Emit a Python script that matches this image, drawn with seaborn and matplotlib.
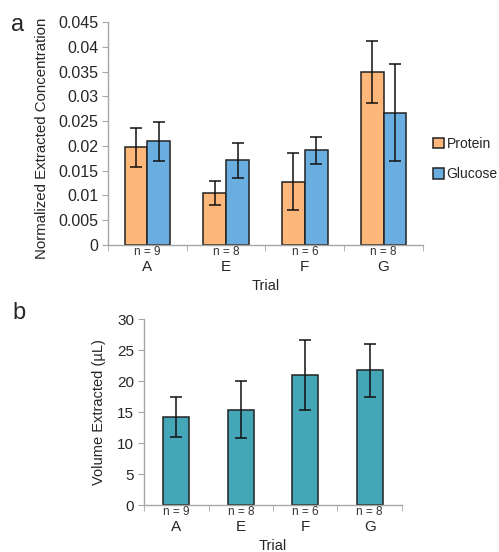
import numpy as np
import pandas as pd
import seaborn as sns
import matplotlib.pyplot as plt

trials = ['A', 'E', 'F', 'G']
n_counts = [9, 8, 6, 8]

protein = [0.0197, 0.0105, 0.0128, 0.0349]
protein_err = [0.0039, 0.0025, 0.0057, 0.0063]
glucose = [0.0209, 0.0171, 0.0191, 0.0267]
glucose_err = [0.0039, 0.0035, 0.0027, 0.0098]

volume = [14.2, 15.4, 21.0, 21.7]
volume_err = [3.15, 4.55, 5.6, 4.3]

sns.set_style('white')
plt.rcParams['font.family'] = ['Liberation Sans', 'DejaVu Sans']

axis_gray = '#a6a6a6'
edge = '#222222'

fig = plt.figure(figsize=(4.99, 5.52), dpi=100)
ax1 = fig.add_axes([0.2164, 0.5562, 0.6313, 0.404])
ax2 = fig.add_axes([0.2886, 0.0851, 0.517, 0.337])

# panel a
df_a = pd.DataFrame({
    'Trial': trials * 2,
    'Type': ['Protein'] * 4 + ['Glucose'] * 4,
    'Value': protein + glucose,
})
sns.barplot(data=df_a, x='Trial', y='Value', hue='Type', ax=ax1,
            palette={'Protein': '#fdb77a', 'Glucose': '#6aaee0'},
            errorbar=None, width=0.58, gap=0, edgecolor=edge, linewidth=1.1,
            saturation=1)
for cont, errs in zip(ax1.containers, [protein_err, glucose_err]):
    xs = [p.get_x() + p.get_width() / 2 for p in cont.patches]
    ys = [p.get_height() for p in cont.patches]
    ax1.errorbar(xs, ys, yerr=errs, fmt='none', ecolor='#111111',
                 elinewidth=1.1, capsize=4, capthick=1.1)
ax1.set_ylim(0, 0.045)
ax1.set_yticks(np.arange(0, 0.0451, 0.005))
ax1.set_yticklabels(['0', '0.005', '0.01', '0.015', '0.02', '0.025',
                     '0.03', '0.035', '0.04', '0.045'])
ax1.tick_params(axis='y', labelsize=11.5)
ax1.set_ylabel('Normalized Extracted Concentration', fontsize=10.8)
ax1.yaxis.set_label_coords(-0.187, 0.48)
ax1.set_xlabel('Trial', fontsize=10.5)
ax1.xaxis.set_label_coords(0.5, -0.152)
leg = ax1.legend(loc='center left', bbox_to_anchor=(1.0, 0.385), frameon=False,
                 fontsize=10, handlelength=0.8, handleheight=0.8,
                 handletextpad=0.2, labelspacing=1.2, borderaxespad=0.3)

# panel b
df_b = pd.DataFrame({'Trial': trials, 'Volume': volume})
sns.barplot(data=df_b, x='Trial', y='Volume', ax=ax2, color='#45a6b7',
            errorbar=None, width=0.4, edgecolor=edge, linewidth=1.1,
            saturation=1)
xs = [p.get_x() + p.get_width() / 2 for p in ax2.containers[0].patches]
ax2.errorbar(xs, volume, yerr=volume_err, fmt='none', ecolor='#111111',
             elinewidth=1.1, capsize=4, capthick=1.1)
ax2.set_ylim(0, 30)
ax2.set_yticks(range(0, 31, 5))
ax2.tick_params(axis='y', labelsize=11)
ax2.set_ylabel('Volume Extracted (\u00b5L)', fontsize=10.5)
ax2.yaxis.set_label_coords(-0.147, 0.5)
ax2.set_xlabel('Trial', fontsize=10.5)
ax2.xaxis.set_label_coords(0.5, -0.18)

for ax in (ax1, ax2):
    sns.despine(ax=ax)
    for s in ('left', 'bottom'):
        ax.spines[s].set_color(axis_gray)
        ax.spines[s].set_linewidth(1.0)
    ax.set_xlim(-0.5, len(trials) - 0.5)
    ax.set_xticks(np.arange(len(trials) + 1) - 0.5, minor=True)
    ax.tick_params(axis='x', which='minor', direction='out', length=4,
                   color=axis_gray, bottom=True)
    ax.tick_params(axis='x', which='major', length=0, pad=11, labelsize=11)
    ax.tick_params(axis='y', direction='out', length=4, color=axis_gray,
                   left=True, pad=3)
    for i, n in enumerate(n_counts):
        ax.annotate(f'n = {n}', xy=(i, 0), xycoords=('data', 'axes fraction'),
                    xytext=(0, -1), textcoords='offset points',
                    ha='center', va='top', fontsize=8.5, color='#333333')

fig.text(0.036, 0.955, 'a', fontsize=17, ha='center', va='center')
fig.text(0.038, 0.433, 'b', fontsize=17, ha='center', va='center')

fig.savefig('out.png', dpi=100)
